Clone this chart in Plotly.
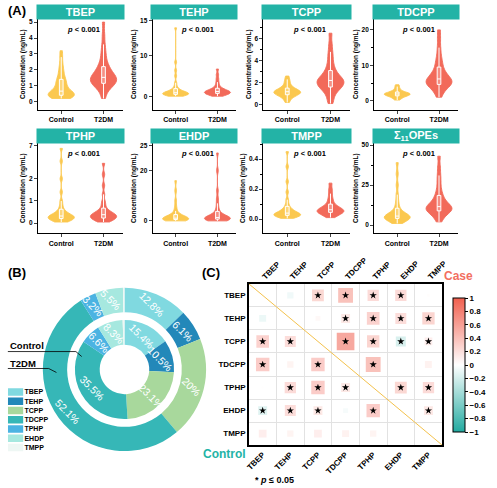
import math
import plotly.graph_objects as go

W, H = 497, 488
FONT = 'Arial, Liberation Sans, sans-serif'
TEAL = '#23b3a6'
YEL = '#fbc84f'
RED = '#f26a5a'

groups = ['Control', 'T2DM']
titles = ['TBEP', 'TEHP', 'TCPP', 'TDCPP', 'TPHP', 'EHDP', 'TMPP', 'Σ<sub>11</sub>OPEs']

# (A) concentrations in ng/mL
tbep_control = [0.2, 0.25, 0.3, 0.3, 0.32, 0.35, 0.38, 0.4, 0.42, 0.45, 0.48, 0.5, 0.55, 0.6, 0.62,
                0.7, 0.8, 0.9, 1.0, 1.1, 1.2, 1.3, 1.4, 1.5, 1.7, 1.9, 2.1, 2.4, 2.8, 3.2]
tbep_t2dm = [0.2, 0.5, 0.8, 0.9, 1.0, 1.05, 1.1, 1.15, 1.2, 1.3, 1.35, 1.4, 1.45, 1.5, 1.5,
             1.55, 1.6, 1.7, 1.8, 1.9, 2.0, 2.1, 2.2, 2.4, 2.6, 2.9, 3.2, 3.6, 4.2, 5.0]
tehp_control = [0.05, 0.1, 0.15, 0.2, 0.25, 0.3, 0.3, 0.35, 0.4, 0.4, 0.45, 0.5, 0.5, 0.55, 0.6,
                0.65, 0.7, 0.8, 0.9, 1.0, 1.2, 1.5, 2.0, 3.0, 3.8, 9.0, 14.0]
tehp_t2dm = [0.05, 0.15, 0.2, 0.3, 0.35, 0.4, 0.45, 0.5, 0.55, 0.6, 0.6, 0.65, 0.7, 0.75, 0.8,
             0.85, 0.9, 1.0, 1.1, 1.2, 1.4, 1.7, 2.1, 2.6, 3.2, 4.0]
tcpp_control = [0.2, 0.4, 0.6, 0.7, 0.8, 0.85, 0.9, 0.95, 1.0, 1.05, 1.1, 1.1, 1.15, 1.2, 1.2,
                1.25, 1.3, 1.35, 1.4, 1.5, 1.6, 1.7, 1.9, 2.1, 2.3, 2.6]
tcpp_t2dm = [0.1, 0.5, 0.9, 1.2, 1.4, 1.5, 1.6, 1.7, 1.8, 1.9, 2.0, 2.1, 2.2, 2.2, 2.3,
             2.4, 2.5, 2.7, 2.9, 3.1, 3.4, 3.8, 4.3, 4.8, 5.5, 6.5]
tdcpp_control = [0.2, 0.5, 0.8, 1.0, 1.2, 1.3, 1.4, 1.5, 1.6, 1.7, 1.8, 1.8, 1.9, 2.0, 2.0,
                 2.1, 2.2, 2.3, 2.4, 2.6, 2.8, 3.1, 3.5, 4.0, 4.5]
tdcpp_t2dm = [1.0, 2.0, 3.0, 3.5, 4.0, 4.3, 4.6, 4.9, 5.0, 5.2, 5.5, 5.8, 6.0, 6.3, 6.6,
              7.0, 7.5, 8.0, 8.6, 9.5, 10.5, 11.5, 13.0, 15.0, 17.5, 20.0]
tphp_control = [0.05, 0.08, 0.1, 0.12, 0.15, 0.18, 0.2, 0.22, 0.25, 0.25, 0.28, 0.3, 0.3, 0.32,
                0.35, 0.38, 0.4, 0.45, 0.5, 0.55, 0.65, 0.8, 1.0, 1.4, 2.0, 2.8, 6.5]
tphp_t2dm = [0.05, 0.1, 0.12, 0.15, 0.18, 0.2, 0.22, 0.25, 0.28, 0.3, 0.32, 0.35, 0.35, 0.38,
             0.4, 0.42, 0.45, 0.5, 0.55, 0.6, 0.7, 0.85, 1.0, 1.3, 1.7, 2.2, 2.7]
ehdp_control = [0.02, 0.05, 0.1, 0.15, 0.2, 0.25, 0.3, 0.35, 0.4, 0.45, 0.5, 0.5, 0.55, 0.6,
                0.7, 0.8, 0.9, 1.0, 1.2, 1.5, 2.0, 2.8, 4.0, 16.0, 18.0]
ehdp_t2dm = [0.02, 0.05, 0.1, 0.2, 0.25, 0.3, 0.35, 0.4, 0.45, 0.5, 0.55, 0.6, 0.65, 0.7, 0.8,
             0.9, 1.0, 1.1, 1.3, 1.6, 2.0, 2.6, 3.5, 4.5, 16.0, 20.0, 23.5]
tmpp_control = [0.005, 0.01, 0.015, 0.02, 0.02, 0.025, 0.025, 0.03, 0.03, 0.03, 0.035, 0.035,
                0.04, 0.045, 0.05, 0.055, 0.06, 0.07, 0.08, 0.1, 0.13, 0.18, 0.25, 0.35, 0.45]
tmpp_t2dm = [0.01, 0.02, 0.03, 0.035, 0.04, 0.045, 0.05, 0.05, 0.055, 0.055, 0.06, 0.065, 0.07,
             0.075, 0.08, 0.09, 0.1, 0.12, 0.14, 0.17, 0.2, 0.24]
sum_control = [1, 2, 2.5, 3, 3.5, 4, 4.2, 4.5, 4.8, 5, 5, 5.3, 5.6, 6, 6.5, 7, 7.5, 8.5, 10, 12,
               15, 19, 25, 32, 39]
sum_t2dm = [2, 4, 6, 7, 8, 8.5, 9, 9.5, 10, 10.5, 11, 11, 11.5, 12, 13, 14, 15, 16.5, 18, 20,
            23, 27, 31, 36, 43]
p_text = '<b><i>p</i> &lt; 0.001</b>'

# (B) composition, %
opes = ['TBEP', 'TEHP', 'TCPP', 'TDCPP', 'TPHP', 'EHDP', 'TMPP']
control_pct = [15.4, 10.5, 23.1, 35.5, 6.6, 8.3, 0.6]
t2dm_pct = [12.8, 6.1, 20.0, 52.1, 3.2, 5.5, 0.3]
pie_colors = ['#80d9e0', '#2388b9', '#a8d89c', '#36b7b7', '#4bb3e2', '#a6e8df', '#eef7f4']

# (C) spearman r: upper triangle = case, lower triangle = control
corr = [
    [None, -0.10, 0.35, 0.55, 0.32, 0.32, 0.02],
    [-0.12, None, 0.06, 0.20, 0.40, 0.30, 0.38],
    [0.40, 0.30, None, 0.78, 0.38, -0.25, 0.15],
    [0.45, 0.10, 0.45, None, 0.55, 0.0, 0.12],
    [0.01, 0.32, 0.45, 0.20, None, 0.35, 0.32],
    [-0.20, 0.30, 0.20, -0.06, 0.45, None, 0.20],
    [0.15, 0.10, 0.15, 0.12, 0.10, 0.0, None],
]
sig = [
    [0, 0, 1, 1, 1, 1, 0],
    [0, 0, 0, 1, 1, 1, 1],
    [1, 1, 0, 1, 1, 1, 1],
    [1, 0, 1, 0, 1, 0, 0],
    [0, 1, 1, 1, 0, 1, 1],
    [1, 1, 1, 0, 1, 0, 1],
    [0, 0, 0, 0, 0, 0, 0],
]
cbar_ticks = [-1, -0.8, -0.6, -0.4, -0.2, 0, 0.2, 0.4, 0.6, 0.8, 1]


def px(x, y):
    return x / W, 1 - y / H


def squeeze(vals, lo, hi, k):
    # broken y axis: values above the gap get pulled down
    return [v if v <= lo else lo + (v - hi) * k for v in vals]


# control data, case data, axis break, y range, ticks, minor dtick, break mark, kde bandwidths
panels = [
    (tbep_control, tbep_t2dm, None, [-0.5, 5.2], [0, 1, 2, 3, 4, 5], None, None, (0.24, 0.3)),
    (tehp_control, tehp_t2dm, (4, 8, 1), [-1.9, 11.3], [0, 10, 15], None, 4, (0.25, 0.25)),
    (tcpp_control, tcpp_t2dm, None, [-0.45, 7.8], [0, 2, 4, 6], 1, None, (0.2, 0.4)),
    (tdcpp_control, tdcpp_t2dm, None, [-2.5, 23.1], [0, 10, 20], 5, None, (0.38, 1.2)),
    (tphp_control, tphp_t2dm, (3, 5, 0.25), [-0.45, 3.6], [0, 1, 2, 7], None, 3, (0.1, 0.11)),
    (ehdp_control, ehdp_t2dm, (5, 15, 1), [-2.4, 15.4], [0, 20, 25], None, 5, (0.5, 0.5)),
    (tmpp_control, tmpp_t2dm, None, [-0.093, 0.505], [0, 0.2, 0.4], 0.1, None, (0.014, 0.017)),
    (sum_control, sum_t2dm, None, [-5, 51], [0, 25, 50], 12.5, None, (2.0, 2.6)),
]
cols = [(36, 123), (154, 240), (268, 357), (382, 468)]
rows = [(17, 108), (142, 232)]
head_y = [10, 135]
p_y = [28, 152]

fig = go.Figure()
layout = dict(width=W, height=H, margin=dict(l=0, r=0, t=0, b=0),
              paper_bgcolor='white', plot_bgcolor='white', showlegend=False,
              font=dict(family=FONT, color='black'))
annos = []
shapes = []

tickf = dict(size=6.5, family=FONT, weight='bold', color='black')

for i, (ctrl, case, brk, yr, tv, mdt, brk_at, bws) in enumerate(panels):
    n = i + 1
    r, c = divmod(i, 4)
    x0, x1 = cols[c]
    top, bot = rows[r]
    sx = '' if n == 1 else str(n)
    for g, vals, colr, bw in ((groups[0], ctrl, YEL, bws[0]), (groups[1], case, RED, bws[1])):
        yv = squeeze(vals, *brk) if brk else vals
        fig.add_trace(go.Violin(
            x=[g] * len(yv), y=yv, xaxis='x' + sx, yaxis='y' + sx,
            fillcolor=colr, line=dict(color=colr, width=0.9), opacity=1,
            points=False, spanmode='hard', width=0.62, scalemode='width', bandwidth=bw,
            box=dict(visible=True, width=0.14, fillcolor='rgba(255,255,255,0.25)',
                     line=dict(color='white', width=1)),
            meanline=dict(visible=False), hoverinfo='skip'))
    tvals = squeeze(tv, *brk) if brk else tv
    ttext = ['%.1f' % t for t in tv] if n == 7 else [str(t) for t in tv]
    layout['xaxis' + sx] = dict(
        domain=[x0 / W, x1 / W], anchor='y' + sx, range=[-0.55, 1.45],
        showline=True, linecolor='black', linewidth=1.2, ticks='outside', ticklen=3,
        tickwidth=1.2, tickfont=dict(size=7, family=FONT, weight='bold'),
        showgrid=False, zeroline=False, fixedrange=True)
    ya = dict(
        domain=[1 - bot / H, 1 - top / H], anchor='x' + sx, range=yr,
        tickmode='array', tickvals=tvals, ticktext=ttext,
        showline=True, linecolor='black', linewidth=1.2, ticks='outside', ticklen=3,
        tickwidth=1.2, tickfont=tickf, showgrid=False, zeroline=False,
        title=dict(text='Concentration (ng/mL)', standoff=2,
                   font=dict(size=6.5, family=FONT, weight='bold')))
    if mdt:
        ya['minor'] = dict(dtick=mdt, ticks='outside', ticklen=2, tickwidth=1, tickcolor='black')
    layout['yaxis' + sx] = ya
    if brk_at is not None:
        fig.add_trace(go.Scatter(
            x=[-0.55], y=[brk_at], xaxis='x' + sx, yaxis='y' + sx, mode='markers',
            marker=dict(symbol='line-ne', size=6, line=dict(width=2, color='black')),
            cliponaxis=False, hoverinfo='skip'))
    cx = (x0 + x1) / 2
    hx, hy = px(cx, head_y[r])
    annos.append(dict(x=hx, y=hy, xref='paper', yref='paper', text='<b>%s</b>' % titles[i],
                      showarrow=False, bgcolor=TEAL, width=x1 - x0, height=14, borderpad=0,
                      font=dict(color='white', size=11, family=FONT),
                      xanchor='center', yanchor='middle'))
    qx, qy = px(cx + 3, p_y[r])
    annos.append(dict(x=qx, y=qy, xref='paper', yref='paper', text=p_text, showarrow=False,
                      font=dict(size=7.5, family=FONT), xanchor='center', yanchor='middle'))

# (B) donuts
ccx, ccy = 125, 369
R_out, R_out_in, R_in, R_in_in = 84, 59, 51, 25.5
for vals, R, hole in ((t2dm_pct, R_out, R_out_in / R_out), (control_pct, R_in, R_in_in / R_in)):
    xa, ya_ = px(ccx - R, ccy + R)
    xb, yb = px(ccx + R, ccy - R)
    fig.add_trace(go.Pie(values=vals, labels=opes, marker=dict(colors=pie_colors),
                         sort=False, direction='clockwise', rotation=0, hole=hole,
                         textinfo='none', hoverinfo='skip',
                         domain=dict(x=[xa, xb], y=[ya_, yb])))
    rmid = (R + R * hole) / 2
    cum = 0
    for v in vals:
        if v >= 1:
            ang = (cum + v / 2) / 100 * 2 * math.pi
            lx, ly = px(ccx + rmid * math.sin(ang), ccy - rmid * math.cos(ang))
            annos.append(dict(x=lx, y=ly, xref='paper', yref='paper', text='%g%%' % v,
                              showarrow=False, textangle=45, xanchor='center', yanchor='middle',
                              font=dict(size=10.5, color='white', family=FONT)))
        cum += v

# legend of (B), drawn as tiny bars
lx0, ly0 = px(5, 452)
lx1, ly1 = px(21, 387)
fig.add_trace(go.Bar(x=[1] * len(opes), y=opes, orientation='h', xaxis='x9', yaxis='y9',
                     marker=dict(color=pie_colors, line=dict(width=0)), width=0.82,
                     hoverinfo='skip'))
layout['xaxis9'] = dict(domain=[lx0, lx1], anchor='y9', range=[0, 1], visible=False)
layout['yaxis9'] = dict(domain=[ly0, ly1], anchor='x9', autorange='reversed', side='right',
                        showline=False, ticks='', showgrid=False,
                        tickfont=dict(size=7, family=FONT, weight='bold'))

for txt, ty, path in (('Control', 345, [(5, 351), (75, 351), (81, 356)]),
                      ('T2DM', 363, [(5, 368), (47, 368), (55, 372)])):
    ax_, ay_ = px(5, ty)
    annos.append(dict(x=ax_, y=ay_, xref='paper', yref='paper', text='<b>%s</b>' % txt,
                      showarrow=False, xanchor='left', yanchor='middle',
                      font=dict(size=9.5, family=FONT)))
    pts = [px(a, b) for a, b in path]
    shapes.append(dict(type='path', xref='paper', yref='paper', line=dict(color='black', width=0.8),
                       path='M ' + ' L '.join('%f,%f' % p for p in pts)))

# (C) correlation matrix
n_c = len(opes)
xs, ys, rs, sz, stx, sty = [], [], [], [], [], []
for i in range(n_c):
    for j in range(n_c):
        v = corr[i][j]
        if v is None or v == 0:
            continue
        xs.append(j)
        ys.append(i)
        rs.append(v)
        sz.append(20 * math.sqrt(abs(v)))
        if sig[i][j]:
            stx.append(j)
            sty.append(i)

cmx0, cmy0 = px(253, 445)
cmx1, cmy1 = px(452, 283)
fig.add_trace(go.Scatter(
    x=xs, y=ys, mode='markers', xaxis='x10', yaxis='y10', hoverinfo='skip',
    marker=dict(symbol='square', size=sz, color=rs, cmin=-1, cmax=1,
                colorscale=[[0, '#22aaa0'], [0.5, '#ffffff'], [1, '#f1604f']],
                line=dict(width=0),
                colorbar=dict(x=453 / W, xanchor='left', y=1 - 364.5 / H, yanchor='middle',
                              len=155 / H, lenmode='fraction', thickness=12,
                              outlinewidth=1, outlinecolor='black',
                              tickmode='array', tickvals=cbar_ticks,
                              ticktext=[('−%g' % -t) if t < 0 else '%g' % t for t in cbar_ticks],
                              ticks='outside', ticklen=3, tickcolor='black',
                              tickfont=dict(size=8, family=FONT, weight='bold')))))
fig.add_trace(go.Scatter(x=stx, y=sty, mode='markers', xaxis='x10', yaxis='y10',
                         hoverinfo='skip',
                         marker=dict(symbol='star', size=5.5, color='black')))
fig.add_trace(go.Scatter(x=list(range(n_c)), y=[0] * n_c, mode='markers', xaxis='x11',
                         yaxis='y10', marker=dict(opacity=0), hoverinfo='skip'))

lblf = dict(size=8, family=FONT, weight='bold')
grid = dict(tickmode='array', tickvals=[k + 0.5 for k in range(n_c - 1)], showgrid=True,
            gridcolor='#e2e2e2', gridwidth=1, ticks='')
layout['xaxis10'] = dict(domain=[cmx0, cmx1], anchor='y10', range=[-0.5, n_c - 0.5],
                         tickmode='array', tickvals=list(range(n_c)), ticktext=opes,
                         tickangle=-45, tickfont=lblf, ticks='', showgrid=False, zeroline=False,
                         showline=True, mirror=True, linecolor='black', linewidth=1.5,
                         minor=grid)
layout['xaxis11'] = dict(overlaying='x10', anchor='y10', side='top', range=[-0.5, n_c - 0.5],
                         tickmode='array', tickvals=list(range(n_c)), ticktext=opes,
                         tickangle=-45, tickfont=lblf, ticks='', showgrid=False, zeroline=False,
                         showline=False)
layout['yaxis10'] = dict(domain=[cmy0, cmy1], anchor='x10', range=[n_c - 0.5, -0.5],
                         tickmode='array', tickvals=list(range(n_c)), ticktext=opes,
                         tickfont=lblf, ticks='', showgrid=False, zeroline=False,
                         showline=True, mirror=True, linecolor='black', linewidth=1.5,
                         minor=grid)
shapes.append(dict(type='line', xref='x10', yref='y10', x0=-0.5, y0=-0.5, x1=n_c - 0.5,
                   y1=n_c - 0.5, line=dict(color='#f3c14c', width=1)))

for txt, xx, yy, kw in (('<b>(A)</b>', 3, 9, dict(size=13)),
                        ('<b>(B)</b>', 3, 272, dict(size=13)),
                        ('<b>(C)</b>', 203, 272, dict(size=13)),
                        ('<b>Case</b>', 452, 275, dict(size=12, color='#f26f5f')),
                        ('<b>Control</b>', 204, 454, dict(size=12, color=TEAL)),
                        ('<b>* <i>p</i> ≤ 0.05</b>', 257, 480, dict(size=9))):
    ax_, ay_ = px(xx, yy)
    f = dict(family=FONT)
    f.update(kw)
    annos.append(dict(x=ax_, y=ay_, xref='paper', yref='paper', text=txt, showarrow=False,
                      xanchor='left', yanchor='middle', font=f))

layout['annotations'] = annos
layout['shapes'] = shapes
fig.update_layout(**layout)
# page body has an 8px default margin; drop it so the figure sits at the window corner
fig.write_html('out.html', config={'displayModeBar': False},
               post_script="document.body.style.margin='0';")
